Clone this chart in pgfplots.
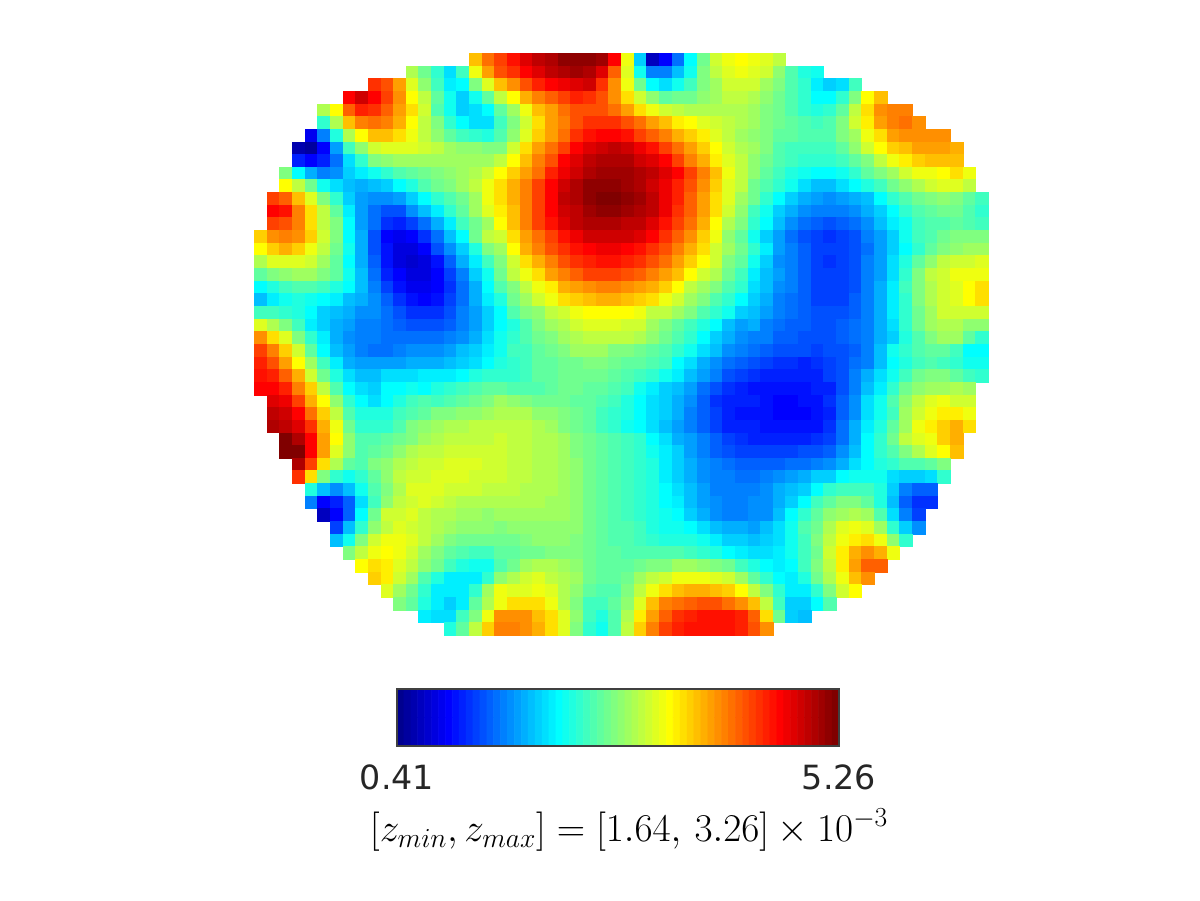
\documentclass[border=0pt]{standalone}
\usepackage{fix-cm}
\usepackage[no-math]{fontspec}
\usepackage{pgfplots}
\pgfplotsset{compat=1.18}
\newfontfamily\djv{DejaVu Sans}
\definecolor{ticktext}{gray}{0.15}
\pgfplotsset{
  colormap={jetlevels}{rgb(0)=(0,0,.5625) rgb(7)=(0,0,1) rgb(23)=(0,1,1) rgb(39)=(1,1,0) rgb(55)=(1,0,0) rgb(63)=(.5,0,0)},
  cellmark/.style={scatter, only marks, mark=square*, mark size=4.72pt, line width=0.1pt, point meta=explicit,
    scatter/use mapped color={draw=mapped color, fill=mapped color}},
}
% one row of cells: row number (from the top), first column, level of each cell (0..63 of the colour scale)
\newcommand\cellrow[3]{\addplot[cellmark] table[row sep=\\, header=false, x expr=\coordindex+#2, y expr=45-#1, meta index=0]{#3};}
\begin{document}
\begin{tikzpicture}
\path[use as bounding box] (0,0) rectangle (900pt,675pt);
\begin{axis}[
  at={(190.5pt,198.75pt)}, anchor=south west, scale only axis,
  width=550.5pt, height=436.5pt,
  xmin=-0.5, xmax=57.5, ymin=-0.5, ymax=45.5,
  hide axis, clip=false, point meta min=0, point meta max=63,
]
\cellrow{0}{17}{43\\48\\51\\54\\57\\59\\60\\62\\62\\62\\61\\55\\38\\20\\3\\7\\14\\23\\30\\36\\38\\39\\38\\37\\35\\}
\cellrow{1}{12}{34\\30\\26\\21\\27\\38\\45\\50\\52\\55\\57\\59\\60\\61\\60\\57\\49\\37\\24\\15\\15\\19\\24\\31\\35\\37\\38\\37\\36\\32\\28\\25\\24\\}
\cellrow{2}{9}{52\\50\\45\\37\\32\\27\\22\\23\\31\\37\\43\\46\\50\\53\\55\\56\\57\\58\\52\\46\\38\\30\\23\\21\\24\\27\\31\\33\\36\\36\\36\\33\\31\\28\\26\\22\\20\\21\\27\\}
\cellrow{3}{7}{55\\58\\55\\51\\46\\39\\35\\29\\24\\20\\24\\29\\35\\39\\44\\47\\49\\51\\53\\52\\50\\46\\41\\36\\32\\29\\30\\30\\32\\33\\35\\35\\34\\32\\30\\28\\26\\23\\23\\26\\31\\39\\43\\}
\cellrow{4}{5}{34\\39\\49\\53\\52\\49\\45\\41\\36\\28\\24\\20\\21\\23\\29\\33\\38\\43\\45\\48\\50\\50\\50\\48\\45\\41\\38\\36\\35\\34\\34\\34\\34\\34\\33\\31\\30\\28\\26\\25\\26\\29\\35\\41\\46\\47\\47\\}
\cellrow{5}{5}{26\\34\\43\\47\\48\\47\\44\\39\\35\\31\\26\\23\\21\\21\\27\\31\\36\\41\\45\\47\\50\\52\\52\\52\\50\\48\\45\\43\\40\\39\\37\\36\\35\\34\\33\\31\\30\\29\\28\\27\\28\\31\\36\\40\\45\\47\\48\\46\\}
\cellrow{6}{4}{6\\15\\25\\34\\39\\43\\43\\41\\38\\35\\32\\29\\27\\26\\25\\28\\32\\37\\42\\45\\48\\52\\54\\55\\55\\54\\51\\49\\47\\44\\42\\40\\37\\35\\33\\32\\31\\29\\29\\28\\28\\28\\31\\33\\38\\41\\45\\46\\46\\46\\46\\}
\cellrow{7}{3}{2\\1\\7\\17\\27\\32\\36\\37\\37\\37\\36\\35\\33\\32\\32\\31\\31\\36\\41\\45\\48\\51\\55\\57\\58\\59\\58\\56\\54\\51\\48\\45\\42\\39\\36\\34\\33\\31\\28\\27\\27\\27\\27\\29\\32\\36\\39\\42\\43\\45\\45\\45\\44\\}
\cellrow{8}{3}{9\\7\\9\\14\\21\\26\\31\\32\\33\\33\\33\\33\\33\\33\\33\\33\\35\\39\\43\\47\\50\\55\\57\\59\\60\\60\\60\\58\\57\\55\\51\\47\\44\\40\\37\\35\\32\\30\\28\\27\\26\\26\\26\\27\\29\\31\\35\\38\\40\\42\\43\\43\\43\\}
\cellrow{9}{2}{31\\23\\18\\15\\16\\20\\22\\24\\26\\28\\29\\30\\31\\32\\33\\34\\36\\39\\42\\45\\48\\53\\56\\58\\60\\61\\61\\61\\60\\59\\57\\55\\51\\47\\43\\38\\35\\32\\29\\27\\25\\24\\23\\23\\24\\26\\29\\31\\33\\36\\38\\38\\39\\41\\38\\}
\cellrow{10}{2}{39\\35\\30\\24\\21\\19\\18\\19\\20\\23\\25\\28\\30\\31\\33\\35\\38\\41\\44\\47\\51\\55\\58\\60\\62\\62\\62\\61\\60\\58\\56\\53\\50\\46\\42\\37\\35\\30\\28\\26\\24\\21\\19\\19\\21\\23\\25\\27\\30\\32\\34\\36\\37\\37\\35\\}
\cellrow{11}{1}{51\\49\\43\\37\\31\\26\\20\\17\\16\\16\\17\\20\\23\\26\\28\\30\\33\\38\\41\\44\\47\\51\\55\\59\\60\\62\\63\\63\\62\\61\\59\\56\\53\\49\\45\\41\\37\\33\\30\\26\\23\\20\\18\\17\\16\\17\\18\\19\\23\\26\\28\\30\\31\\32\\31\\29\\27\\}
\cellrow{12}{1}{55\\54\\47\\41\\35\\29\\22\\17\\14\\12\\12\\16\\19\\22\\26\\29\\33\\37\\40\\43\\47\\51\\55\\58\\59\\61\\62\\62\\61\\60\\59\\56\\52\\49\\45\\41\\36\\32\\27\\24\\20\\18\\16\\15\\15\\15\\16\\18\\20\\23\\26\\28\\29\\30\\30\\28\\26\\}
\cellrow{13}{1}{51\\50\\47\\41\\35\\31\\23\\17\\14\\10\\9\\11\\14\\18\\22\\27\\30\\33\\39\\43\\47\\51\\54\\57\\59\\60\\60\\60\\59\\59\\57\\54\\51\\48\\44\\39\\34\\31\\26\\23\\19\\16\\14\\13\\12\\13\\14\\16\\19\\22\\24\\27\\28\\28\\29\\28\\27\\}
\cellrow{14}{0}{42\\46\\47\\46\\42\\36\\31\\23\\18\\12\\7\\6\\7\\10\\14\\19\\23\\30\\35\\36\\41\\45\\48\\51\\54\\56\\58\\58\\58\\58\\57\\55\\52\\49\\46\\42\\38\\32\\29\\24\\20\\17\\14\\12\\11\\10\\11\\12\\15\\17\\20\\24\\27\\28\\30\\31\\31\\31\\}
\cellrow{15}{0}{39\\42\\44\\42\\38\\35\\30\\24\\18\\12\\8\\5\\5\\7\\12\\16\\20\\25\\31\\33\\39\\44\\47\\50\\52\\54\\55\\56\\56\\55\\54\\52\\50\\47\\44\\41\\36\\33\\30\\26\\22\\17\\15\\13\\11\\11\\11\\12\\14\\17\\20\\23\\26\\29\\31\\32\\33\\33\\}
\cellrow{16}{0}{34\\37\\37\\37\\36\\33\\29\\23\\18\\13\\8\\5\\4\\5\\8\\13\\18\\22\\27\\31\\36\\41\\44\\47\\50\\52\\53\\54\\54\\53\\52\\50\\48\\45\\42\\39\\36\\31\\29\\24\\20\\16\\15\\13\\11\\10\\11\\12\\15\\17\\21\\25\\29\\32\\35\\36\\36\\37\\}
\cellrow{17}{0}{29\\31\\32\\33\\33\\31\\29\\24\\19\\14\\9\\7\\5\\5\\7\\11\\15\\20\\24\\30\\35\\38\\41\\45\\47\\49\\51\\51\\51\\50\\49\\47\\45\\43\\39\\36\\34\\30\\27\\22\\19\\17\\15\\13\\11\\11\\11\\12\\15\\17\\21\\26\\31\\35\\36\\38\\38\\38\\}
\cellrow{18}{0}{23\\25\\27\\28\\28\\27\\25\\23\\19\\15\\11\\8\\6\\6\\7\\10\\14\\18\\23\\28\\31\\35\\38\\40\\44\\45\\46\\47\\47\\46\\45\\44\\42\\39\\35\\33\\31\\28\\26\\21\\19\\16\\15\\13\\11\\11\\11\\12\\15\\18\\22\\27\\31\\34\\36\\37\\39\\41\\}
\cellrow{19}{0}{19\\22\\24\\25\\24\\23\\22\\19\\18\\16\\13\\10\\8\\7\\8\\11\\14\\18\\22\\25\\30\\33\\36\\38\\41\\42\\43\\44\\44\\43\\42\\41\\38\\36\\33\\31\\28\\26\\23\\20\\18\\15\\14\\13\\11\\11\\11\\13\\15\\18\\22\\26\\31\\34\\36\\37\\39\\41\\}
\cellrow{20}{0}{27\\27\\26\\25\\23\\20\\19\\18\\16\\16\\14\\12\\10\\10\\10\\12\\15\\17\\20\\23\\28\\31\\32\\35\\36\\38\\39\\39\\39\\39\\38\\35\\35\\33\\31\\28\\26\\24\\20\\19\\17\\15\\14\\13\\12\\12\\12\\13\\15\\18\\22\\26\\30\\33\\36\\36\\36\\36\\}
\cellrow{21}{0}{37\\34\\31\\27\\22\\20\\18\\17\\15\\15\\14\\13\\12\\12\\12\\13\\15\\17\\20\\23\\25\\28\\31\\33\\34\\36\\37\\37\\37\\36\\36\\33\\31\\29\\27\\25\\23\\19\\17\\18\\15\\14\\13\\13\\12\\12\\13\\14\\15\\18\\21\\26\\30\\33\\34\\34\\32\\32\\}
\cellrow{22}{0}{46\\41\\37\\31\\26\\22\\18\\16\\15\\15\\14\\14\\14\\14\\14\\15\\16\\18\\21\\24\\26\\28\\30\\31\\33\\34\\35\\35\\35\\35\\34\\32\\30\\28\\26\\23\\20\\18\\16\\15\\15\\13\\13\\12\\12\\12\\13\\14\\15\\18\\20\\25\\28\\31\\33\\33\\29\\26\\}
\cellrow{23}{0}{51\\47\\42\\36\\29\\23\\19\\17\\15\\14\\14\\15\\16\\16\\16\\17\\19\\20\\22\\24\\27\\27\\29\\30\\31\\33\\33\\33\\31\\31\\30\\29\\28\\26\\24\\21\\19\\16\\15\\14\\13\\12\\12\\12\\11\\12\\12\\13\\15\\19\\24\\26\\28\\29\\29\\27\\23\\23\\}
\cellrow{24}{0}{53\\50\\45\\39\\33\\27\\22\\18\\17\\17\\17\\17\\18\\18\\18\\19\\20\\21\\23\\25\\26\\27\\29\\29\\30\\30\\31\\31\\30\\29\\29\\28\\27\\23\\21\\18\\16\\14\\13\\12\\11\\10\\10\\9\\10\\11\\12\\14\\15\\19\\23\\25\\27\\28\\27\\26\\24\\24\\}
\cellrow{25}{0}{54\\53\\49\\44\\36\\30\\25\\21\\19\\19\\21\\21\\21\\22\\22\\22\\23\\25\\26\\26\\26\\27\\29\\29\\30\\30\\30\\30\\29\\28\\27\\26\\24\\22\\19\\17\\15\\12\\11\\10\\9\\9\\9\\9\\9\\11\\12\\15\\18\\21\\24\\27\\30\\31\\31\\29\\27\\26\\}
\cellrow{26}{0}{55\\55\\53\\47\\42\\35\\28\\23\\21\\20\\23\\23\\24\\23\\25\\26\\27\\28\\29\\29\\28\\28\\28\\29\\30\\30\\29\\29\\28\\27\\24\\22\\20\\19\\17\\14\\12\\10\\9\\8\\8\\8\\8\\8\\9\\9\\12\\15\\19\\22\\26\\30\\32\\33\\33\\34\\33\\}
\cellrow{27}{1}{57\\56\\51\\44\\39\\32\\26\\23\\21\\23\\25\\27\\28\\27\\28\\29\\30\\31\\33\\32\\31\\30\\30\\30\\29\\29\\28\\27\\25\\23\\21\\20\\18\\16\\13\\10\\9\\9\\9\\8\\7\\7\\8\\8\\10\\13\\16\\21\\24\\28\\32\\35\\37\\38\\36\\36\\}
\cellrow{28}{1}{59\\58\\55\\48\\42\\35\\28\\25\\25\\25\\27\\28\\29\\31\\31\\32\\32\\33\\34\\34\\34\\32\\32\\31\\30\\29\\27\\26\\25\\23\\21\\20\\18\\15\\13\\11\\9\\8\\8\\8\\7\\7\\7\\8\\9\\13\\16\\21\\24\\27\\33\\36\\38\\40\\40\\38\\}
\cellrow{29}{1}{60\\59\\57\\52\\44\\38\\30\\26\\26\\26\\28\\31\\32\\33\\34\\34\\35\\35\\35\\35\\35\\34\\33\\31\\30\\29\\27\\26\\24\\23\\21\\19\\17\\15\\13\\11\\9\\9\\9\\8\\8\\8\\8\\8\\10\\14\\18\\22\\25\\29\\33\\38\\40\\42\\44\\41\\}
\cellrow{30}{2}{63\\60\\55\\45\\39\\32\\28\\28\\29\\30\\31\\33\\34\\35\\35\\35\\35\\36\\35\\35\\34\\34\\33\\31\\30\\29\\28\\27\\26\\23\\21\\18\\17\\15\\13\\11\\10\\9\\9\\9\\9\\9\\10\\11\\14\\18\\23\\26\\30\\35\\37\\38\\42\\44\\}
\cellrow{31}{2}{63\\63\\55\\45\\37\\32\\28\\29\\30\\32\\34\\35\\35\\36\\36\\36\\36\\36\\35\\35\\34\\34\\33\\31\\30\\29\\28\\27\\26\\24\\22\\20\\17\\15\\13\\12\\11\\11\\11\\11\\11\\12\\12\\13\\16\\19\\23\\26\\28\\31\\34\\37\\39\\43\\}
\cellrow{32}{3}{60\\51\\41\\34\\29\\28\\31\\32\\34\\35\\36\\36\\37\\37\\37\\36\\36\\35\\35\\34\\34\\33\\32\\30\\29\\28\\27\\26\\25\\22\\20\\18\\16\\15\\14\\13\\13\\13\\13\\14\\14\\15\\16\\18\\21\\23\\25\\26\\28\\28\\29\\31\\}
\cellrow{33}{3}{52\\41\\31\\26\\24\\26\\29\\32\\35\\36\\36\\37\\37\\37\\36\\36\\36\\35\\35\\34\\34\\33\\32\\30\\29\\28\\27\\26\\25\\22\\20\\18\\16\\15\\15\\14\\14\\15\\16\\17\\18\\20\\20\\23\\24\\24\\24\\21\\20\\20\\21\\26\\}
\cellrow{34}{4}{25\\19\\16\\19\\24\\28\\31\\34\\37\\37\\37\\36\\36\\36\\35\\35\\35\\34\\34\\34\\33\\32\\30\\29\\28\\27\\26\\25\\23\\21\\19\\17\\15\\15\\15\\15\\16\\18\\19\\20\\23\\26\\27\\27\\27\\25\\20\\15\\13\\13\\}
\cellrow{35}{4}{15\\7\\9\\13\\21\\27\\32\\35\\36\\37\\36\\35\\34\\34\\34\\34\\34\\34\\34\\33\\33\\32\\30\\29\\28\\27\\26\\25\\23\\22\\19\\17\\16\\15\\15\\16\\16\\18\\20\\23\\27\\29\\31\\31\\29\\25\\19\\13\\10\\10\\}
\cellrow{36}{5}{3\\7\\13\\23\\30\\36\\36\\37\\35\\34\\34\\33\\33\\32\\33\\33\\33\\33\\33\\33\\32\\30\\29\\28\\27\\26\\25\\24\\23\\20\\18\\16\\15\\15\\16\\16\\19\\23\\26\\29\\32\\33\\34\\33\\28\\21\\15\\11\\}
\cellrow{37}{6}{11\\19\\26\\32\\35\\37\\36\\35\\34\\33\\32\\32\\32\\31\\32\\32\\32\\32\\32\\32\\30\\29\\28\\28\\27\\25\\24\\24\\23\\21\\19\\18\\18\\17\\19\\21\\24\\28\\30\\34\\37\\38\\37\\33\\26\\20\\16\\}
\cellrow{38}{6}{19\\24\\31\\36\\38\\38\\37\\35\\33\\31\\30\\30\\30\\30\\30\\31\\32\\32\\32\\31\\30\\29\\28\\28\\27\\26\\25\\25\\25\\24\\22\\20\\20\\19\\20\\21\\24\\27\\31\\35\\38\\40\\41\\38\\32\\26\\}
\cellrow{39}{7}{31\\35\\38\\39\\38\\36\\33\\31\\29\\28\\27\\27\\29\\29\\30\\30\\31\\31\\31\\30\\29\\29\\28\\28\\28\\28\\28\\27\\26\\25\\23\\22\\21\\21\\22\\24\\27\\30\\36\\40\\44\\46\\44\\38\\}
\cellrow{40}{8}{39\\41\\40\\37\\35\\32\\30\\27\\25\\24\\24\\28\\30\\33\\34\\34\\33\\32\\30\\29\\29\\29\\30\\31\\31\\33\\33\\32\\31\\30\\27\\25\\23\\22\\23\\27\\31\\35\\40\\45\\49\\49\\}
\cellrow{41}{9}{42\\40\\36\\33\\28\\25\\22\\22\\22\\26\\32\\34\\36\\37\\35\\34\\33\\30\\29\\29\\30\\33\\35\\36\\38\\38\\38\\37\\36\\33\\29\\26\\23\\22\\25\\30\\34\\38\\43\\46\\}
\cellrow{42}{10}{37\\33\\30\\26\\22\\22\\22\\26\\33\\38\\37\\37\\38\\37\\34\\32\\29\\28\\28\\31\\35\\38\\41\\43\\44\\44\\43\\42\\39\\35\\31\\26\\22\\22\\26\\31\\36\\39\\}
\cellrow{43}{11}{31\\29\\25\\22\\20\\22\\29\\34\\38\\41\\41\\41\\38\\34\\31\\27\\27\\29\\32\\37\\43\\47\\48\\49\\50\\50\\48\\46\\43\\35\\27\\20\\20\\23\\28\\}
\cellrow{44}{13}{22\\21\\21\\27\\31\\38\\46\\46\\46\\43\\41\\37\\32\\27\\25\\28\\34\\40\\45\\49\\52\\53\\54\\54\\54\\53\\49\\41\\30\\20\\19\\}
\cellrow{45}{15}{25\\29\\35\\42\\47\\47\\46\\44\\41\\37\\31\\26\\24\\28\\35\\42\\47\\51\\53\\54\\54\\54\\54\\53\\50\\46\\}
\end{axis}
\begin{axis}[
  at={(297.75pt,115.5pt)}, anchor=south west, scale only axis,
  width=331.5pt, height=42.75pt,
  xmin=-0.5, xmax=63.5, ymin=-0.5, ymax=1.5,
  point meta min=0, point meta max=63,
  axis line style={draw=black!75, line width=0.9pt},
  xtick={-0.5,63.5}, xticklabels={0.41,5.26}, ytick=\empty,
  tick style={draw=none}, major tick length=0pt,
  xticklabel style={font=\djv\fontsize{25}{30}\selectfont, text=ticktext, yshift=-10.5pt},
  axis on top,
]
\addplot[matrix plot*, mesh/cols=64, point meta=explicit] table[row sep=\\, header=false, x expr={mod(\coordindex,64)}, y expr={floor(\coordindex/64)}, meta index=0]{0\\1\\2\\3\\4\\5\\6\\7\\8\\9\\10\\11\\12\\13\\14\\15\\16\\17\\18\\19\\20\\21\\22\\23\\24\\25\\26\\27\\28\\29\\30\\31\\32\\33\\34\\35\\36\\37\\38\\39\\40\\41\\42\\43\\44\\45\\46\\47\\48\\49\\50\\51\\52\\53\\54\\55\\56\\57\\58\\59\\60\\61\\62\\63\\0\\1\\2\\3\\4\\5\\6\\7\\8\\9\\10\\11\\12\\13\\14\\15\\16\\17\\18\\19\\20\\21\\22\\23\\24\\25\\26\\27\\28\\29\\30\\31\\32\\33\\34\\35\\36\\37\\38\\39\\40\\41\\42\\43\\44\\45\\46\\47\\48\\49\\50\\51\\52\\53\\54\\55\\56\\57\\58\\59\\60\\61\\62\\63\\};
\end{axis}
\node[inner sep=0pt] at (471.75pt,52.5pt) {\fontsize{29.5}{35}\selectfont $[z_{min}, z_{max}] = [1.64,\, 3.26] \times 10^{-3}$};
\end{tikzpicture}
\end{document}
